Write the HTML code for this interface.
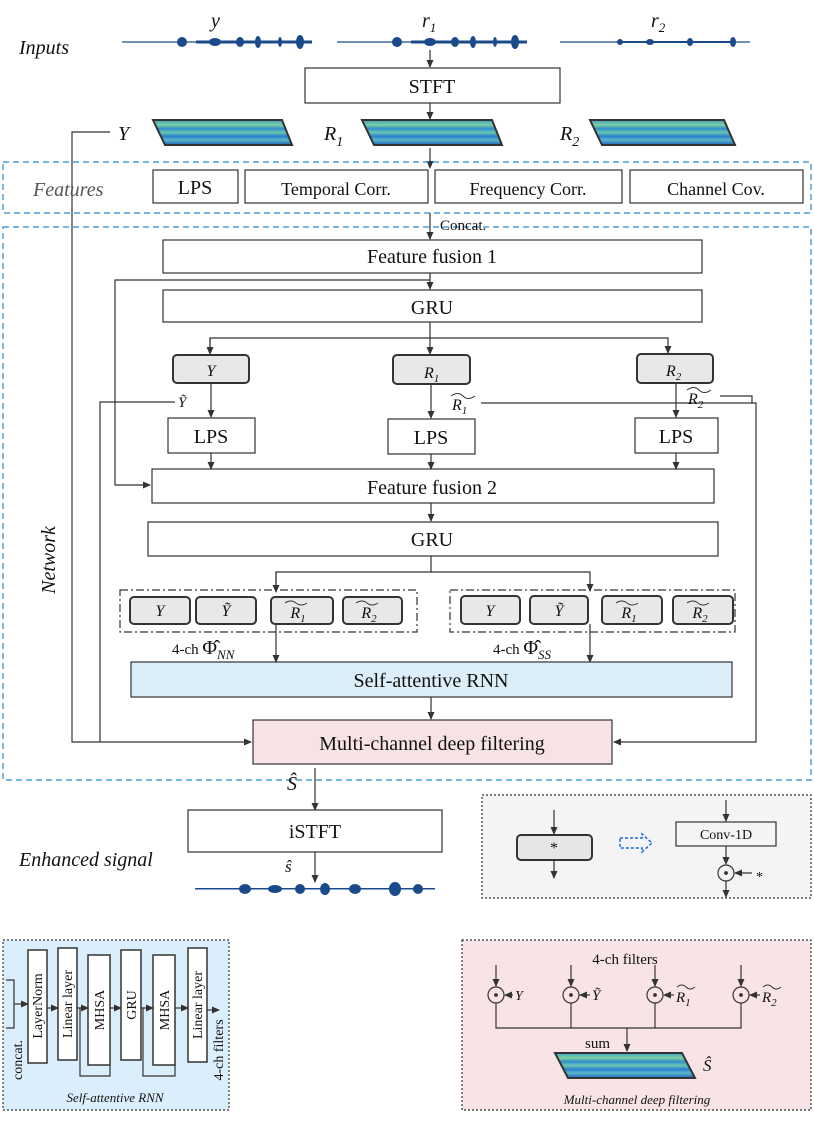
<!DOCTYPE html>
<html><head><meta charset="utf-8"><style>
html,body{margin:0;padding:0;background:#fff}
svg{display:block}
text{font-family:"Liberation Serif",serif;fill:#111}
.i{font-style:italic}
</style></head><body>
<svg width="814" height="1121" viewBox="0 0 814 1121" xmlns="http://www.w3.org/2000/svg">
<defs>
<marker id="a" markerWidth="8" markerHeight="8" refX="7" refY="4" orient="auto" markerUnits="userSpaceOnUse"><path d="M0,0.5 L8,4 L0,7.5z" fill="#333"/></marker>
<linearGradient id="sg" x1="0" y1="0" x2="0" y2="1">
<stop offset="0" stop-color="#3aa0c8"/><stop offset="0.2" stop-color="#7fd0a0"/><stop offset="0.35" stop-color="#2f8fd0"/><stop offset="0.5" stop-color="#6cc8b0"/><stop offset="0.65" stop-color="#2a7fd0"/><stop offset="0.8" stop-color="#58b8c8"/><stop offset="1" stop-color="#1f5fc0"/>
</linearGradient>
</defs>
<g stroke="#333" stroke-width="1.2" fill="none">

<!-- waveforms -->
<g stroke="#1a4a8a">
<line x1="122" y1="42" x2="312" y2="42"/><line x1="337" y1="42" x2="527" y2="42"/><line x1="560" y1="42" x2="750" y2="42"/>
<line x1="196" y1="42" x2="312" y2="42" stroke-width="3"/><line x1="411" y1="42" x2="527" y2="42" stroke-width="3"/><line x1="620" y1="42" x2="735" y2="42" stroke-width="2"/>
</g>
<g fill="#1a4a8a" stroke="none">
<ellipse cx="182" cy="42" rx="5" ry="5"/><ellipse cx="215" cy="42" rx="6" ry="4"/><ellipse cx="240" cy="42" rx="4" ry="5"/><ellipse cx="258" cy="42" rx="3" ry="6"/><ellipse cx="300" cy="42" rx="4" ry="7"/><ellipse cx="280" cy="42" rx="2" ry="5"/>
<ellipse cx="397" cy="42" rx="5" ry="5"/><ellipse cx="430" cy="42" rx="6" ry="4"/><ellipse cx="455" cy="42" rx="4" ry="5"/><ellipse cx="473" cy="42" rx="3" ry="6"/><ellipse cx="515" cy="42" rx="4" ry="7"/><ellipse cx="495" cy="42" rx="2" ry="5"/>
<ellipse cx="620" cy="42" rx="3" ry="3"/><ellipse cx="650" cy="42" rx="4" ry="3"/><ellipse cx="690" cy="42" rx="3" ry="4"/><ellipse cx="733" cy="42" rx="3" ry="5"/>
<rect x="195" y="888" width="240" height="1.5"/>
<ellipse cx="245" cy="889" rx="6" ry="5"/><ellipse cx="275" cy="889" rx="7" ry="4"/><ellipse cx="300" cy="889" rx="5" ry="5"/><ellipse cx="325" cy="889" rx="5" ry="6"/><ellipse cx="355" cy="889" rx="6" ry="5"/><ellipse cx="395" cy="889" rx="6" ry="7"/><ellipse cx="418" cy="889" rx="5" ry="5"/>
</g>

<!-- STFT -->
<line x1="430" y1="50" x2="430" y2="67" marker-end="url(#a)"/>
<rect x="305" y="68" width="255" height="35"/>
<line x1="430" y1="103" x2="430" y2="119" marker-end="url(#a)"/>
<path d="M153,120 L282,120 L292,145 L165,145z" fill="url(#sg)" stroke="#333" stroke-width="2"/>
<path d="M362,120 L492,120 L502,145 L374,145z" fill="url(#sg)" stroke="#333" stroke-width="2"/>
<path d="M590,120 L724,120 L735,145 L602,145z" fill="url(#sg)" stroke="#333" stroke-width="2"/>
<line x1="430" y1="148" x2="430" y2="168" marker-end="url(#a)"/>
<polyline points="110,132 72,132 72,742 251,742" marker-end="url(#a)"/>

<!-- features -->
<rect x="3" y="162" width="808" height="51" stroke="#2a8ad0" stroke-dasharray="6,4"/>
<rect x="153" y="170" width="85" height="33"/>
<rect x="245" y="170" width="183" height="33"/>
<rect x="435" y="170" width="187" height="33"/>
<rect x="630" y="170" width="173" height="33"/>
<line x1="430" y1="213" x2="430" y2="239" marker-end="url(#a)"/>

<!-- network -->
<rect x="3" y="227" width="808" height="553" stroke="#2a8ad0" stroke-dasharray="6,4"/>
<rect x="163" y="240" width="539" height="33"/>
<line x1="430" y1="273" x2="430" y2="289" marker-end="url(#a)"/>
<rect x="163" y="290" width="539" height="32"/>
<polyline points="430,280 115,280 115,485 150,485" marker-end="url(#a)"/>
<line x1="430" y1="322" x2="430" y2="354" marker-end="url(#a)"/>
<polyline points="210,353 210,338 668,338 668,353" marker-end="url(#a)"/>
<line x1="210" y1="338" x2="210" y2="354" marker-end="url(#a)"/>
<g fill="#e8e8e8" stroke="#333" stroke-width="2">
<rect x="173" y="355" width="76" height="28" rx="4"/>
<rect x="393" y="355" width="77" height="29" rx="4"/>
<rect x="637" y="354" width="76" height="29" rx="4"/>
</g>
<line x1="211" y1="383" x2="211" y2="417" marker-end="url(#a)"/>
<line x1="431" y1="384" x2="431" y2="418" marker-end="url(#a)"/>
<line x1="676" y1="383" x2="676" y2="417" marker-end="url(#a)"/>
<rect x="168" y="418" width="87" height="35"/>
<rect x="388" y="419" width="87" height="35"/>
<rect x="635" y="418" width="83" height="35"/>
<line x1="211" y1="453" x2="211" y2="469" marker-end="url(#a)"/>
<line x1="431" y1="454" x2="431" y2="469" marker-end="url(#a)"/>
<line x1="676" y1="453" x2="676" y2="469" marker-end="url(#a)"/>
<polyline points="175,402 100,402 100,742"/>
<polyline points="481,403 756,403 756,742 614,742" marker-end="url(#a)"/>
<polyline points="720,396 752,396 752,403"/>
<rect x="152" y="469" width="562" height="34"/>
<line x1="431" y1="503" x2="431" y2="521" marker-end="url(#a)"/>
<rect x="148" y="522" width="570" height="34"/>
<line x1="431" y1="556" x2="431" y2="572"/>
<polyline points="276,591 276,572 590,572 590,591" marker-end="url(#a)"/>
<line x1="276" y1="572" x2="276" y2="592" marker-end="url(#a)"/>
<rect x="120" y="590" width="297" height="42" stroke-dasharray="8,3,2,3"/>
<rect x="450" y="590" width="285" height="42" stroke-dasharray="8,3,2,3"/>
<g fill="#e8e8e8" stroke="#333" stroke-width="2">
<rect x="130" y="597" width="60" height="27" rx="4"/><rect x="196" y="597" width="60" height="27" rx="4"/><rect x="271" y="597" width="62" height="27" rx="4"/><rect x="343" y="597" width="59" height="27" rx="4"/>
<rect x="461" y="596" width="59" height="28" rx="4"/><rect x="530" y="596" width="58" height="28" rx="4"/><rect x="602" y="596" width="60" height="28" rx="4"/><rect x="673" y="596" width="60" height="28" rx="4"/>
</g>
<line x1="276" y1="624" x2="276" y2="662" marker-end="url(#a)"/>
<line x1="590" y1="624" x2="590" y2="662" marker-end="url(#a)"/>
<rect x="131" y="662" width="601" height="35" fill="#dceefa"/>
<line x1="431" y1="697" x2="431" y2="719" marker-end="url(#a)"/>
<rect x="253" y="720" width="359" height="44" fill="#f7e3e5"/>
<line x1="315" y1="768" x2="315" y2="810" marker-end="url(#a)"/>
<rect x="188" y="810" width="254" height="42"/>
<line x1="315" y1="852" x2="315" y2="882" marker-end="url(#a)"/>

<!-- legend -->
<rect x="482" y="795" width="329" height="103" fill="#f4f4f4" stroke-dasharray="2,2"/>
<line x1="554" y1="810" x2="554" y2="834" marker-end="url(#a)"/>
<rect x="517" y="835" width="75" height="25" rx="4" fill="#e6e6e6" stroke-width="2"/>
<line x1="554" y1="860" x2="554" y2="878" marker-end="url(#a)"/>
<path d="M620,838 L642,838 L642,834 L652,843 L642,852 L642,848 L620,848z" stroke="#1a6ae0" stroke-dasharray="3,2" stroke-width="1.5"/>
<line x1="726" y1="800" x2="726" y2="821" marker-end="url(#a)"/>
<rect x="676" y="822" width="100" height="24"/>
<line x1="726" y1="846" x2="726" y2="864" marker-end="url(#a)"/>
<circle cx="726" cy="873" r="8"/><circle cx="726" cy="873" r="1.3" fill="#333"/>
<line x1="752" y1="873" x2="735" y2="873" marker-end="url(#a)"/>
<line x1="726" y1="881" x2="726" y2="897" marker-end="url(#a)"/>

<!-- SA-RNN detail -->
<rect x="3" y="940" width="226" height="170" fill="#dbeefb" stroke-dasharray="2,2"/>
<polyline points="6,980 14,980 14,1028 6,1028"/>
<line x1="14" y1="1004" x2="28" y2="1004" marker-end="url(#a)"/>
<g fill="#fff" stroke="#333" stroke-width="1.5">
<rect x="28" y="950" width="19" height="113"/><rect x="58" y="948" width="19" height="112"/><rect x="88" y="955" width="22" height="110"/>
<rect x="121" y="950" width="20" height="110"/><rect x="153" y="955" width="22" height="110"/><rect x="188" y="948" width="19" height="114"/>
</g>
<line x1="47" y1="1008" x2="58" y2="1008" marker-end="url(#a)"/>
<polyline points="77,1008 80,1008 80,1076 110,1076 110,1065"/>
<line x1="80" y1="1008" x2="88" y2="1008" marker-end="url(#a)"/>
<line x1="110" y1="1008" x2="121" y2="1008" marker-end="url(#a)"/>
<polyline points="141,1008 143,1008 143,1076 175,1076 175,1065"/>
<line x1="143" y1="1008" x2="153" y2="1008" marker-end="url(#a)"/>
<line x1="175" y1="1008" x2="188" y2="1008" marker-end="url(#a)"/>
<line x1="207" y1="1010" x2="219" y2="1010" marker-end="url(#a)"/>

<!-- MCDF detail -->
<rect x="462" y="940" width="349" height="170" fill="#f8e4e6" stroke-dasharray="2,2"/>
<g>
<line x1="496" y1="965" x2="496" y2="986" marker-end="url(#a)"/><circle cx="496" cy="995" r="8"/><circle cx="496" cy="995" r="1.3" fill="#333"/>
<line x1="571" y1="965" x2="571" y2="986" marker-end="url(#a)"/><circle cx="571" cy="995" r="8"/><circle cx="571" cy="995" r="1.3" fill="#333"/>
<line x1="655" y1="965" x2="655" y2="986" marker-end="url(#a)"/><circle cx="655" cy="995" r="8"/><circle cx="655" cy="995" r="1.3" fill="#333"/>
<line x1="741" y1="965" x2="741" y2="986" marker-end="url(#a)"/><circle cx="741" cy="995" r="8"/><circle cx="741" cy="995" r="1.3" fill="#333"/>
<line x1="513" y1="995" x2="505" y2="995" marker-end="url(#a)"/>
<line x1="590" y1="995" x2="580" y2="995" marker-end="url(#a)"/>
<line x1="674" y1="995" x2="664" y2="995" marker-end="url(#a)"/>
<line x1="760" y1="995" x2="750" y2="995" marker-end="url(#a)"/>
<polyline points="496,1003 496,1028 741,1028 741,1003"/>
<line x1="571" y1="1003" x2="571" y2="1028"/><line x1="655" y1="1003" x2="655" y2="1028"/>
<line x1="627" y1="1028" x2="627" y2="1051" marker-end="url(#a)"/>
<path d="M555,1053 L682,1053 L695,1078 L568,1078z" fill="url(#sg)" stroke="#333" stroke-width="2"/>
</g>
</g>

<!-- text -->
<g font-size="20">
<text x="19" y="54" class="i">Inputs</text>
<text x="211" y="27" class="i">y</text><text x="422" y="27" class="i">r<tspan font-size="13" dy="5">1</tspan></text><text x="651" y="27" class="i">r<tspan font-size="13" dy="5">2</tspan></text>
<text x="432" y="93" text-anchor="middle">STFT</text>
<text x="118" y="140" class="i">Y</text>
<text x="324" y="140" class="i">R<tspan font-size="14" dy="6">1</tspan></text>
<text x="560" y="140" class="i">R<tspan font-size="14" dy="6">2</tspan></text>
<text x="33" y="196" class="i" style="fill:#555">Features</text>
<text x="195" y="194" text-anchor="middle">LPS</text>
<text x="336" y="195" text-anchor="middle" font-size="18">Temporal Corr.</text>
<text x="528" y="195" text-anchor="middle" font-size="18">Frequency Corr.</text>
<text x="716" y="195" text-anchor="middle" font-size="18">Channel Cov.</text>
<text x="440" y="230" font-size="15">Concat.</text>
<text x="432" y="263" text-anchor="middle">Feature fusion 1</text>
<text x="432" y="314" text-anchor="middle">GRU</text>
<text x="211" y="376" text-anchor="middle" class="i" font-size="16">Y</text>
<text x="424" y="378" class="i" font-size="16">R<tspan font-size="11" dy="4">1</tspan></text>
<text x="666" y="376" class="i" font-size="16">R<tspan font-size="11" dy="4">2</tspan></text>
<text x="178" y="407" class="i" font-size="15">Ỹ</text>
<text x="452" y="410" class="i" font-size="16">R<tspan font-size="11" dy="4">1</tspan></text>
<text x="688" y="404" class="i" font-size="16">R<tspan font-size="11" dy="4">2</tspan></text>
<path d="M451,396 q7,-5 12,0 t12,0 M687,390 q7,-5 12,0 t12,0" stroke="#333" fill="none"/>
<text x="211" y="443" text-anchor="middle">LPS</text>
<text x="431" y="444" text-anchor="middle">LPS</text>
<text x="676" y="443" text-anchor="middle">LPS</text>
<text x="432" y="494" text-anchor="middle">Feature fusion 2</text>
<text x="432" y="546" text-anchor="middle">GRU</text>
<text x="55" y="560" class="i" transform="rotate(-90 55 560)" text-anchor="middle">Network</text>
<g font-size="16" class="i">
<text x="160" y="616" text-anchor="middle" fill="#444">Y</text><text x="226" y="616" text-anchor="middle">Ỹ</text>
<text x="298" y="618" text-anchor="middle">R<tspan font-size="11" dy="4">1</tspan></text><text x="369" y="618" text-anchor="middle">R<tspan font-size="11" dy="4">2</tspan></text>
<text x="490" y="616" text-anchor="middle">Y</text><text x="559" y="616" text-anchor="middle">Ỹ</text>
<text x="629" y="618" text-anchor="middle">R<tspan font-size="11" dy="4">1</tspan></text><text x="700" y="618" text-anchor="middle">R<tspan font-size="11" dy="4">2</tspan></text>
</g>
<path d="M285,603 q6,-4 11,0 t11,0 M356,603 q6,-4 11,0 t11,0 M616,603 q6,-4 11,0 t11,0 M687,603 q6,-4 11,0 t11,0" stroke="#333" fill="none"/>
<text x="172" y="654" font-size="15" fill="#444">4-ch <tspan font-size="20">Φ̂</tspan><tspan font-size="13" dy="5" class="i">NN</tspan></text>
<text x="493" y="654" font-size="15" fill="#444">4-ch <tspan font-size="20">Φ̂</tspan><tspan font-size="13" dy="5" class="i">SS</tspan></text>
<text x="431" y="687" text-anchor="middle">Self-attentive RNN</text>
<text x="432" y="750" text-anchor="middle">Multi-channel deep filtering</text>
<text x="287" y="790" class="i">Ŝ</text>
<text x="315" y="838" text-anchor="middle">iSTFT</text>
<text x="19" y="866" class="i">Enhanced signal</text>
<text x="285" y="872" class="i" font-size="17">ŝ</text>
<text x="554" y="853" text-anchor="middle" font-size="16">*</text>
<text x="726" y="839" text-anchor="middle" font-size="14">Conv-1D</text>
<text x="756" y="881" font-size="14">*</text>
<g font-size="14">
<text x="42" y="1006" transform="rotate(-90 42 1006)" text-anchor="middle">LayerNorm</text>
<text x="72" y="1004" transform="rotate(-90 72 1004)" text-anchor="middle">Linear layer</text>
<text x="104" y="1010" transform="rotate(-90 104 1010)" text-anchor="middle">MHSA</text>
<text x="136" y="1005" transform="rotate(-90 136 1005)" text-anchor="middle">GRU</text>
<text x="169" y="1010" transform="rotate(-90 169 1010)" text-anchor="middle">MHSA</text>
<text x="202" y="1005" transform="rotate(-90 202 1005)" text-anchor="middle">Linear layer</text>
<text x="22" y="1060" transform="rotate(-90 22 1060)" text-anchor="middle">concat.</text>
<text x="223" y="1050" transform="rotate(-90 223 1050)" text-anchor="middle">4-ch filters</text>
</g>
<text x="115" y="1102" text-anchor="middle" class="i" font-size="13">Self-attentive RNN</text>
<text x="625" y="964" text-anchor="middle" font-size="15">4-ch filters</text>
<text x="515" y="1000" class="i" font-size="14">Y</text>
<text x="592" y="1000" class="i" font-size="15">Ỹ</text>
<text x="676" y="1002" class="i" font-size="15">R<tspan font-size="11" dy="4">1</tspan></text>
<text x="762" y="1002" class="i" font-size="15">R<tspan font-size="11" dy="4">2</tspan></text>
<path d="M677,987 q5,-4 9,0 t9,0 M763,987 q5,-4 9,0 t9,0" stroke="#333" fill="none"/>
<text x="585" y="1048" font-size="15">sum</text>
<text x="703" y="1071" class="i" font-size="17">Ŝ</text>
<text x="637" y="1104" text-anchor="middle" class="i" font-size="13">Multi-channel deep filtering</text>
</g>
</svg>
</body></html>
